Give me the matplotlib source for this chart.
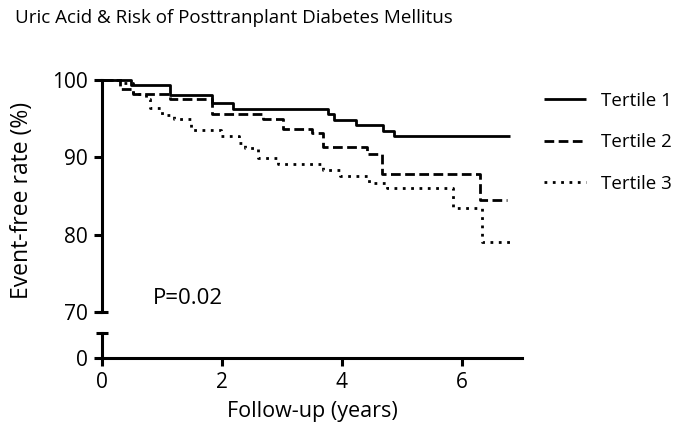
import matplotlib
matplotlib.use("Agg")
import matplotlib.pyplot as plt
import matplotlib.transforms as mtransforms

plt.rcParams['font.family'] = ['Open Sans', 'DejaVu Sans']
plt.rcParams['lines.scale_dashes'] = False

title = "Uric Acid & Risk of Posttranplant Diabetes Mellitus"
xlabel = "Follow-up (years)"
ylabel = "Event-free rate (%)"
labels = ["Tertile 1", "Tertile 2", "Tertile 3"]
p_text = "P=0.02"

t1_t = [0, 0.49, 1.14, 1.83, 2.18, 3.76, 3.87, 4.24, 4.69, 4.87, 6.80]
t1_v = [100, 99.4, 98.1, 97.0, 96.2, 95.6, 94.8, 94.2, 93.4, 92.7, 92.7]

t2_t = [0, 0.30, 0.52, 1.14, 1.83, 2.68, 3.01, 3.50, 3.68, 4.42, 4.67, 6.30, 6.75]
t2_v = [100, 98.8, 98.15, 97.5, 95.6, 94.9, 93.7, 93.1, 91.3, 90.4, 87.9, 84.5, 84.5]

t3_t = [0, 0.33, 0.52, 0.73, 0.80, 1.00, 1.20, 1.48, 1.98, 2.28, 2.38, 2.60, 2.93,
        3.68, 3.97, 4.45, 4.75, 5.85, 6.33, 6.80]
t3_v = [100, 99.6, 98.2, 97.5, 96.4, 95.5, 94.9, 93.5, 92.7, 91.9, 91.2, 89.9, 89.2,
        88.4, 87.6, 86.7, 86.0, 83.5, 79.0, 79.0]

yticks_top = [70, 80, 90, 100]
xticks = [0, 2, 4, 6]

W, H = 675, 441
fig = plt.figure(figsize=(W / 100, H / 100), dpi=100)

left = 102 / W
width = (522 - 102) / W
ax = fig.add_axes([left, 1 - 312 / H, width, (312 - 80) / H])
axb = fig.add_axes([left, 1 - 358 / H, width, (358 - 333) / H])

lw = 2.0
styles = ['-', (0, (7, 3.2)), (0, (2, 4))]
series = [(t1_t, t1_v), (t2_t, t2_v), (t3_t, t3_v)]
for (tt, vv), ls, lab in zip(series, styles, labels):
    ax.plot(tt, vv, drawstyle='steps-post', color='black', lw=lw, linestyle=ls,
            label=lab, clip_on=False, solid_capstyle='butt', dash_capstyle='butt')

ax.set_xlim(0, 7)
ax.set_ylim(70, 100)
axb.set_xlim(0, 7)
axb.set_ylim(0, 3)

for a in (ax, axb):
    for s in ('top', 'right'):
        a.spines[s].set_visible(False)
    a.spines['left'].set_linewidth(2.2)
    a.spines['bottom'].set_linewidth(2.2)
    a.tick_params(width=2.2, length=6, labelsize=15, colors='black', pad=4)

ax.spines['bottom'].set_visible(False)
ax.set_xticks([])
ax.set_yticks(yticks_top)
ax.set_yticklabels([str(v) for v in yticks_top])

axb.set_yticks([0])
axb.set_yticklabels(['0'])
axb.set_xticks(xticks)
axb.set_xticklabels([str(v) for v in xticks])

# break caps
capw = 6 / (522 - 102)
trans_top = mtransforms.blended_transform_factory(ax.transAxes, ax.transData)
ax.plot([-capw, capw], [70, 70], color='black', lw=2.2, transform=trans_top,
        clip_on=False, solid_capstyle='butt')
axb.plot([-capw, capw], [1, 1], color='black', lw=2.2, transform=axb.transAxes,
         clip_on=False, solid_capstyle='butt')

ax.text(0.84, 71.8, p_text, fontsize=16, ha='left', va='center')

fig.text(15 / W, 1 - 18 / H, title, fontsize=13.5, ha='left', va='center')
fig.text(312 / W, 1 - 411 / H, xlabel, fontsize=15.5, ha='center', va='center')
fig.text(22 / W, 1 - 200 / H, ylabel, fontsize=16.5, ha='center', va='center',
         rotation=90)

leg = ax.legend(loc='upper left', bbox_to_anchor=(544 / W, 1 - 92 / H),
                bbox_transform=fig.transFigure, frameon=False, fontsize=13.5,
                handlelength=2.24, handletextpad=0.8, labelspacing=1.25,
                borderaxespad=0, borderpad=0)

fig.savefig('out.png', dpi=100)
